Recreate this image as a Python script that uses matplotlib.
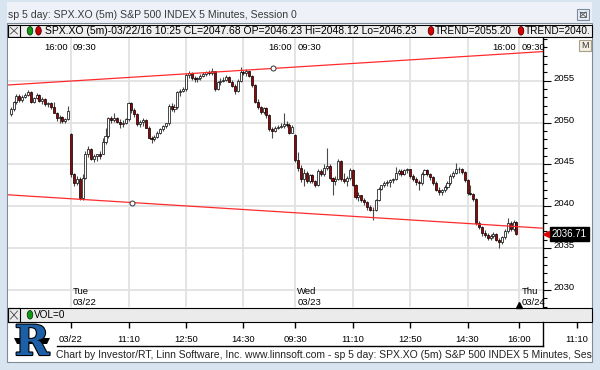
import numpy as np
import matplotlib
matplotlib.use('Agg')
import matplotlib.pyplot as plt
from matplotlib.patches import Rectangle, Ellipse, Polygon
import matplotlib.transforms as mtransforms
import matplotlib.patheffects as pe
from matplotlib.ticker import MultipleLocator

plt.rcParams['font.family'] = ['Liberation Sans', 'DejaVu Sans']

# ---- SPX.XO 5 minute bars, bar 0 = 03/22 09:30 ----
first_bar = -21  # tail of 03/21 session

open_0321 = [2051.0, 2051.6, 2052.4, 2053.2, 2052.7, 2053.1, 2053.3, 2053.7, 2052.5, 2052.9, 2053.3,
             2052.6, 2052.8, 2052.2, 2052.3, 2051.8, 2051.2, 2050.5, 2050.7, 2050.2, 2050.4]
high_0321 = [2051.8, 2052.6, 2053.4, 2053.4, 2053.3, 2053.5, 2053.9, 2053.8, 2053.1, 2053.5, 2053.4,
             2053.0, 2052.9, 2052.5, 2052.4, 2052.4, 2051.3, 2050.9, 2050.8, 2050.6, 2052.0]
low_0321 = [2050.8, 2051.4, 2052.2, 2052.5, 2052.5, 2052.9, 2053.2, 2052.3, 2052.3, 2052.8, 2052.5,
            2052.2, 2052.0, 2051.9, 2051.6, 2051.1, 2050.2, 2050.0, 2049.9, 2050.0, 2050.3]
close_0321 = [2051.6, 2052.4, 2053.2, 2052.7, 2053.1, 2053.3, 2053.7, 2052.5, 2052.9, 2053.3, 2052.6,
              2052.8, 2052.2, 2052.3, 2051.8, 2051.2, 2050.5, 2050.7, 2050.2, 2050.4, 2051.4]

open_0322 = [2048.6, 2043.8, 2042.8, 2043.3, 2041.0, 2043.4, 2046.3, 2046.9, 2045.7, 2046.0,
             2046.2, 2046.23, 2047.7, 2048.4, 2050.5, 2050.3, 2050.6, 2050.1, 2049.8, 2050.0,
             2050.4, 2052.3, 2051.5, 2051.0, 2049.8, 2050.1, 2050.3, 2049.4, 2048.2, 2048.0,
             2048.3, 2048.8, 2049.2, 2049.6, 2049.9, 2052.0, 2051.6, 2051.9, 2053.6, 2053.8,
             2054.0, 2055.7, 2055.9, 2055.3, 2055.2, 2055.3, 2055.6, 2055.8, 2056.0, 2055.9,
             2056.1, 2054.0, 2054.8, 2055.0, 2055.1, 2055.5, 2054.9, 2054.4, 2053.8, 2055.0,
             2056.0, 2055.9, 2056.1, 2055.6, 2054.5, 2052.5, 2051.8, 2051.3, 2051.7, 2050.9,
             2049.2, 2049.0, 2049.4, 2049.5, 2049.6, 2049.8, 2049.7, 2048.8]
high_0322 = [2048.7, 2044.0, 2043.6, 2043.5, 2043.8, 2046.6, 2047.2, 2047.0, 2046.3, 2046.3,
             2046.6, 2048.12, 2049.3, 2050.7, 2050.8, 2051.1, 2050.7, 2050.4, 2050.3, 2050.6,
             2052.5, 2052.5, 2051.7, 2051.1, 2050.3, 2050.6, 2050.4, 2049.6, 2048.4, 2048.5,
             2049.0, 2049.3, 2049.7, 2050.0, 2052.2, 2052.3, 2052.2, 2053.8, 2054.0, 2054.2,
             2055.9, 2056.2, 2056.0, 2055.6, 2055.5, 2055.8, 2056.0, 2056.2, 2056.3, 2056.5,
             2056.2, 2055.0, 2055.3, 2055.5, 2055.7, 2055.6, 2055.1, 2054.6, 2055.2, 2056.6,
             2056.3, 2056.4, 2056.2, 2055.7, 2054.6, 2052.8, 2052.0, 2051.9, 2051.8, 2051.0,
             2049.5, 2049.6, 2049.7, 2050.0, 2051.1, 2050.2, 2049.9, 2049.7]
low_0322 = [2043.5, 2042.4, 2042.5, 2040.7, 2040.8, 2043.2, 2045.9, 2045.5, 2045.3, 2045.4,
            2045.6, 2046.23, 2047.4, 2048.2, 2049.9, 2050.1, 2049.9, 2049.4, 2049.5, 2049.8,
            2050.2, 2051.2, 2050.7, 2049.6, 2049.5, 2049.6, 2049.3, 2048.1, 2047.6, 2047.8,
            2048.1, 2048.6, 2049.0, 2049.3, 2049.7, 2051.4, 2051.3, 2051.6, 2053.2, 2053.6,
            2053.8, 2055.3, 2055.1, 2054.9, 2054.9, 2055.1, 2055.4, 2055.6, 2055.7, 2055.7,
            2053.8, 2053.9, 2054.5, 2054.8, 2055.0, 2054.8, 2054.2, 2053.4, 2053.6, 2054.9,
            2055.7, 2055.6, 2055.5, 2054.2, 2052.3, 2051.6, 2051.0, 2051.0, 2050.6, 2049.0,
            2048.2, 2048.9, 2049.2, 2049.3, 2049.4, 2049.5, 2048.6, 2048.7]
close_0322 = [2043.8, 2042.8, 2043.3, 2041.0, 2043.4, 2046.3, 2046.9, 2045.7, 2046.0, 2046.2,
              2046.0, 2047.68, 2048.4, 2050.5, 2050.3, 2050.6, 2050.1, 2049.8, 2050.0, 2050.4,
              2052.3, 2051.5, 2051.0, 2049.8, 2050.1, 2050.3, 2049.4, 2048.2, 2048.0, 2048.3,
              2048.8, 2049.2, 2049.6, 2049.9, 2052.0, 2051.6, 2051.9, 2053.6, 2053.8, 2054.0,
              2055.7, 2055.9, 2055.3, 2055.2, 2055.3, 2055.6, 2055.8, 2056.0, 2055.9, 2056.1,
              2054.0, 2054.8, 2055.0, 2055.1, 2055.5, 2054.9, 2054.4, 2053.8, 2055.0, 2056.0,
              2055.9, 2056.1, 2055.6, 2054.5, 2052.5, 2051.8, 2051.3, 2051.7, 2050.9, 2049.2,
              2049.0, 2049.4, 2049.5, 2049.6, 2049.8, 2049.7, 2048.8, 2049.5]

open_0323 = [2048.5, 2045.5, 2044.6, 2043.2, 2044.0, 2043.0, 2043.7, 2043.0, 2042.5, 2044.2,
             2043.8, 2044.6, 2044.8, 2043.4, 2043.0, 2043.3, 2045.4, 2043.3, 2043.0, 2043.4,
             2044.3, 2042.6, 2041.1, 2041.3, 2040.7, 2040.5, 2039.9, 2039.6, 2039.6, 2040.8,
             2042.1, 2042.5, 2042.8, 2042.9, 2043.1, 2043.3, 2044.0, 2044.2, 2043.8, 2044.3,
             2044.4, 2043.6, 2043.3, 2042.9, 2042.8, 2043.9, 2044.3, 2043.8, 2043.5, 2042.8,
             2042.0, 2041.7, 2041.9, 2042.3, 2042.8, 2043.6, 2044.0, 2044.4, 2044.5, 2044.1,
             2043.1, 2041.6, 2041.5, 2040.9, 2038.0, 2037.5, 2036.8, 2036.6, 2036.2, 2036.5,
             2036.7, 2036.0, 2035.7, 2036.3, 2037.0, 2038.0, 2037.3, 2038.1]
high_0323 = [2048.6, 2046.5, 2044.9, 2044.5, 2044.2, 2043.9, 2043.8, 2043.1, 2044.4, 2044.4,
             2045.0, 2047.0, 2045.0, 2043.5, 2043.6, 2045.6, 2045.5, 2044.0, 2043.6, 2044.6,
             2044.5, 2042.7, 2041.7, 2041.4, 2041.0, 2040.6, 2040.1, 2039.9, 2040.9, 2042.3,
             2042.6, 2043.0, 2043.1, 2043.3, 2043.4, 2044.7, 2044.4, 2044.5, 2044.5, 2044.6,
             2044.5, 2043.8, 2043.5, 2043.1, 2044.1, 2044.4, 2044.4, 2044.0, 2043.6, 2043.0,
             2042.3, 2042.1, 2042.5, 2043.0, 2043.8, 2044.2, 2045.2, 2044.7, 2044.6, 2044.2,
             2043.2, 2042.6, 2041.6, 2041.0, 2038.2, 2037.7, 2037.2, 2036.8, 2036.7, 2036.9,
             2036.8, 2036.2, 2036.5, 2037.3, 2038.6, 2038.2, 2038.4, 2038.3]
low_0323 = [2045.3, 2044.2, 2042.9, 2042.4, 2042.8, 2042.8, 2042.8, 2042.3, 2042.4, 2043.6,
            2043.6, 2044.3, 2043.2, 2041.4, 2042.5, 2043.1, 2043.0, 2042.8, 2042.4, 2043.1,
            2042.4, 2040.9, 2040.6, 2040.5, 2040.1, 2039.6, 2039.4, 2038.4, 2039.4, 2040.6,
            2041.9, 2042.3, 2042.4, 2042.3, 2042.8, 2043.1, 2043.7, 2043.6, 2043.7, 2044.0,
            2043.4, 2043.0, 2042.6, 2042.0, 2042.6, 2043.7, 2043.6, 2043.1, 2042.6, 2041.8,
            2041.4, 2041.4, 2041.7, 2042.1, 2042.6, 2043.4, 2043.8, 2044.0, 2043.9, 2042.9,
            2041.3, 2041.3, 2040.6, 2037.8, 2037.3, 2036.5, 2036.3, 2036.0, 2036.0, 2036.2,
            2035.8, 2035.0, 2035.5, 2036.1, 2036.8, 2037.0, 2037.0, 2036.6]
close_0323 = [2045.5, 2044.6, 2043.2, 2044.0, 2043.0, 2043.7, 2043.0, 2042.5, 2044.2, 2043.8,
              2044.6, 2044.8, 2043.4, 2043.0, 2043.3, 2045.4, 2043.3, 2043.0, 2043.4, 2044.3,
              2042.6, 2041.1, 2041.3, 2040.7, 2040.5, 2039.9, 2039.6, 2039.6, 2040.8, 2042.1,
              2042.5, 2042.8, 2042.9, 2043.1, 2043.3, 2044.0, 2044.2, 2043.8, 2044.3, 2044.4,
              2043.6, 2043.3, 2042.9, 2042.8, 2043.9, 2044.3, 2043.8, 2043.5, 2042.8, 2042.0,
              2041.7, 2041.9, 2042.3, 2042.8, 2043.6, 2044.0, 2044.4, 2044.5, 2044.1, 2043.1,
              2041.6, 2041.5, 2040.9, 2038.0, 2037.5, 2036.8, 2036.6, 2036.2, 2036.5, 2036.7,
              2036.0, 2035.7, 2036.3, 2037.0, 2038.0, 2037.3, 2038.1, 2036.71]

opens = np.array(open_0321 + open_0322 + open_0323)
highs = np.array(high_0321 + high_0322 + high_0323)
lows = np.array(low_0321 + low_0322 + low_0323)
closes = np.array(close_0321 + close_0322 + close_0323)
bars = np.arange(first_bar, first_bar + len(closes))

session_starts = [0, 78, 156]
day_names = ['Tue', 'Wed', 'Thu']
day_dates = ['03/22', '03/23', '03/24']
grid_bars = [0, 20, 40, 60, 78, 98, 118, 138, 156]
scroll_bars = [0, 20, 40, 60, 78, 98, 118, 138, 156, 176]
scroll_labels = ['03/22', '11:10', '12:50', '14:30', '09:30', '11:10', '12:50', '14:30', '16:00', '11:10']
price_ticks = [2030, 2035, 2040, 2045, 2050, 2055]

upper_trend_x = [-21.94, 164.35]
upper_trend_y = [2054.49, 2058.48]
lower_trend_x = [-21.94, 164.35]
lower_trend_y = [2041.37, 2037.38]
anchor_x = [70.3, 21.2]
anchor_y = [2056.47, 2040.44]

last_price = 2036.71
cursor_bar = 156
title = 'sp 5 day: SPX.XO (5m) S&P 500 INDEX 5 Minutes, Session 0'
header = 'SPX.XO (5m)-03/22/16 10:25 CL=2047.68 OP=2046.23 Hi=2048.12 Lo=2046.23'
trend_labels = ['TREND=2055.20', 'TREND=2040.']
# footer is shown cut off by the window edge in the source
footer = ('Chart by Investor/RT, Linn Software, Inc. www.linnsoft.com - '
          'sp 5 day: SPX.XO (5m) S&P 500 INDEX 5 Minutes, Ses')

XMIN, XMAX = -21.94, 164.35
YMIN, YMAX = 2027.97, 2060.1

W, H = 600, 370
fig = plt.figure(figsize=(6, 3.7), dpi=100, facecolor='#d9e4f1')


def fig_box(x0, y0, x1, y1):
    # pixel box, origin top-left -> figure fraction rect
    return [x0 / W, 1 - y1 / H, (x1 - x0) / W, (y1 - y0) / H]


# ---- window chrome (pixel coordinates) ----
bg = fig.add_axes([0, 0, 1, 1])
bg.set_xlim(0, W)
bg.set_ylim(H, 0)
bg.axis('off')

bg.add_patch(Rectangle((7, 2), 585, 21, fc='#eef2f8', ec='none'))
bg.add_patch(Rectangle((7, 23), 585, 339, fc='white', ec='#7f8a99', lw=0.8))
bg.text(8, 15.5, title, fontsize=7.6, color='#3a3a3a', va='center')

# close button
bg.add_patch(Rectangle((577, 9), 12, 11, fc='#e9eef6', ec='#7b8ba1', lw=0.8))
bg.add_patch(Rectangle((580, 12), 6, 5, fc='none', ec='#555555', lw=0.6))
bg.plot([580, 586], [12, 17], color='#555555', lw=0.6)
bg.plot([580, 586], [17, 12], color='#555555', lw=0.6)

# header bar
bg.add_patch(Rectangle((8, 24.5), 584, 12.5, fc='#efefef', ec='black', lw=0.8))
bg.add_patch(Rectangle((8, 24.5), 12, 12.5, fc='none', ec='black', lw=0.8))
bg.plot([10.5, 17.5], [27.5, 34], color='#444444', lw=0.6)
bg.plot([10.5, 17.5], [34, 27.5], color='#444444', lw=0.6)
bg.add_patch(Ellipse((30, 30.8), 5.5, 8.5, fc='#119911', ec='#0a3d0a', lw=0.6))
bg.add_patch(Ellipse((38.5, 30.8), 5.5, 8.5, fc='#cc0000', ec='#4a0000', lw=0.6))
bg.text(45, 31, header, fontsize=7.5, va='center')
for dot_x, lbl in zip([431, 521], trend_labels):
    bg.add_patch(Ellipse((dot_x, 30.8), 5.5, 8.5, fc='#dd0000', ec='#4a0000', lw=0.6))
    bg.text(dot_x + 4, 31, lbl, fontsize=7.2, va='center')

# M button
bg.add_patch(Rectangle((579, 40), 12, 11, fc='#f4efe2', ec='#a89f8a', lw=0.8))
bg.text(585, 45.8, 'M', fontsize=6.5, ha='center', va='center', color='#333333')

# volume bar
bg.add_patch(Rectangle((8, 308), 584, 14, fc='#ebebeb', ec='black', lw=0.8))
bg.add_patch(Rectangle((8, 308), 12, 14, fc='none', ec='black', lw=0.8))
bg.plot([10.5, 17.5], [311, 319], color='#444444', lw=0.6)
bg.plot([10.5, 17.5], [319, 311], color='#444444', lw=0.6)
bg.add_patch(Ellipse((30, 314.8), 5.5, 8.5, fc='#119911', ec='#0a3d0a', lw=0.6))
bg.text(34, 315, 'VOL=0', fontsize=7.2, va='center')

# scroller frame
bg.plot([57, 543.3], [346, 346], color='black', lw=1)
bg.plot([543.3, 543.3], [322, 346], color='black', lw=1)

# footer
bg.text(56, 355.5, footer, fontsize=7.5, va='center', color='#222222')

# logo
bg.text(32, 343, 'R', fontsize=30, fontweight='bold', family='DejaVu Serif',
        color='#1d5fa6', ha='center', va='center',
        path_effects=[pe.withStroke(linewidth=1.6, foreground='black')])
bg.add_patch(Polygon([(14, 338), (50, 338), (47, 344), (17, 344)], closed=True,
                     fc='black', ec='none'))

# ---- price chart ----
ax = fig.add_axes(fig_box(8, 38, 543.3, 307))
ax.set_xlim(XMIN, XMAX)
ax.set_ylim(YMIN, YMAX)

ax.set_xticks(grid_bars)
ax.set_yticks(price_ticks)
ax.yaxis.set_minor_locator(MultipleLocator(1))
ax.grid(True, color='#e2e2e2', lw=1.3, zorder=0)
ax.set_axisbelow(True)
ax.yaxis.tick_right()
ax.tick_params(axis='x', length=0, labelbottom=False)
ax.tick_params(axis='y', which='major', direction='out', length=5.8, width=0.8,
               labelright=False, labelleft=False)
ax.tick_params(axis='y', which='minor', direction='out', length=3, width=0.8)
for side in ['left', 'top', 'bottom']:
    ax.spines[side].set_visible(False)
ax.spines['right'].set_linewidth(1)

# right-hand price labels, sitting on their tick lines
ylab = mtransforms.blended_transform_factory(ax.transAxes, ax.transData)
for v in price_ticks:
    ax.text(1 + 10 / 535.3, v, str(v), transform=ylab, fontsize=6.8,
            va='baseline', ha='left', clip_on=False)

# candles
up = closes >= opens
ax.vlines(bars, lows, highs, color='#4a4a4a', lw=0.8, zorder=2)
ax.bar(bars[up], (closes - opens)[up], bottom=opens[up], width=0.72,
       color='white', edgecolor='black', lw=0.5, zorder=3)
ax.bar(bars[~up], (opens - closes)[~up], bottom=closes[~up], width=0.72,
       color='#a00000', edgecolor='black', lw=0.5, zorder=3)

# trend channel
ax.plot(upper_trend_x, upper_trend_y, color='#ff2b2b', lw=0.9, zorder=4)
ax.plot(lower_trend_x, lower_trend_y, color='#ff2b2b', lw=0.9, zorder=4)
ax.plot(anchor_x, anchor_y, 'o', ms=3.6, mfc='white', mec='#333333', mew=0.7, zorder=5)

# session labels
xtop = mtransforms.blended_transform_factory(ax.transData, ax.transAxes)
left_of = mtransforms.offset_copy(xtop, fig=fig, x=-3.5, y=0, units='dots')
right_of = mtransforms.offset_copy(xtop, fig=fig, x=2, y=0, units='dots')
for s in session_starts:
    ax.text(s, 0.965, '16:00', transform=left_of, fontsize=6.8, ha='right', va='center')
    ax.text(s, 0.965, '09:30', transform=right_of, fontsize=6.8, ha='left', va='center')
for s, dn, dd in zip(session_starts, day_names, day_dates):
    ax.text(s, 0.058, dn, transform=right_of, fontsize=6.8, ha='left', va='center')
    ax.text(s, 0.018, dd, transform=right_of, fontsize=6.8, ha='left', va='center')
ax.plot(cursor_bar, 0.009, marker='^', ms=4, color='black', transform=xtop,
        clip_on=False, zorder=6)

# last price tag
ax.plot(1 + 3 / 535.3, last_price, marker='<', ms=5, color='#dd0000', transform=ylab,
        clip_on=False, zorder=6)
ax.text(1 + 8.5 / 535.3, last_price, f'{last_price:.2f}', transform=ylab, fontsize=7,
        color='white', va='center', ha='left', clip_on=False,
        bbox=dict(boxstyle='square,pad=0.18', fc='black', ec='black'))

# ---- time scroller axis ----
axt = fig.add_axes(fig_box(8, 322, 592, 346))
axt.set_xlim(XMIN, XMIN + (XMAX - XMIN) * 584 / 535.3)
axt.set_ylim(0, 1)
axt.axis('off')
axt.vlines(scroll_bars, 0.76, 1.0, color='black', lw=1)
for b, lbl in zip(scroll_bars, scroll_labels):
    axt.text(b, 0.26, lbl, fontsize=6.8, ha='center', va='center')

fig.savefig('out.png', dpi=100, facecolor=fig.get_facecolor())
